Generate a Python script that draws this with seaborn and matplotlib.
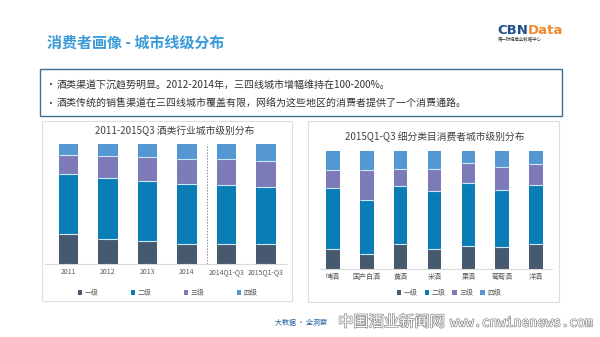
import matplotlib
matplotlib.use("Agg")
import matplotlib.pyplot as plt
import matplotlib.patheffects as pe
from matplotlib.patches import Rectangle, Patch
import numpy as np
import pandas as pd
import seaborn as sns

# ---- data -------------------------------------------------------------
years = ["2011", "2012", "2013", "2014", "2014Q1-Q3", "2015Q1-Q3"]
year_t1 = [25.3, 20.8, 19.2, 16.7, 16.4, 16.4]
year_t2 = [49.4, 50.6, 49.7, 49.7, 49.4, 48.1]
year_t3 = [16.1, 18.6, 20.0, 20.8, 21.4, 21.1]
year_t4 = [9.2, 10.0, 11.1, 12.8, 12.8, 14.4]

drinks = ["啤酒", "国产白酒", "黄酒", "米酒", "果酒", "葡萄酒", "洋酒"]
drink_t1 = [16.7, 12.5, 21.5, 16.7, 19.5, 18.7, 21.0]
drink_t2 = [51.6, 45.9, 48.7, 49.3, 53.8, 48.2, 50.1]
drink_t3 = [15.9, 25.8, 14.4, 19.0, 16.4, 19.5, 18.1]
drink_t4 = [15.9, 15.9, 15.3, 15.0, 10.2, 13.6, 10.8]

tiers = ["一级", "二级", "三级", "四级"]
tier_colors = ["#46596f", "#0a7cb6", "#7d7ab8", "#5597d3"]

bullets = [
    "酒类渠道下沉趋势明显。2012-2014年，三四线城市增幅维持在100-200%。",
    "酒类传统的销售渠道在三四线城市覆盖有限，网络为这些地区的消费者提供了一个消费通路。",
]

# ---- style ------------------------------------------------------------
sns.set_theme(style="white")
plt.rcParams["font.family"] = ["Noto Sans CJK SC", "DejaVu Sans"]

W, H = 600, 337
fig = plt.figure(figsize=(W / 100, H / 100), dpi=100)
fig.patch.set_facecolor("white")


def fx(px):
    return px / W


def fy(py):
    return 1 - py / H


def frame(x0, y0, x1, y1, color, lw):
    fig.add_artist(Rectangle((fx(x0), fy(y1)), fx(x1) - fx(x0), fy(y0) - fy(y1),
                             transform=fig.transFigure, fill=False,
                             edgecolor=color, linewidth=lw))


# header
fig.text(fx(47), fy(43), "消费者画像 - 城市线级分布", fontsize=10.8, fontweight="bold",
         color="#3b9ad8", va="center", ha="left")
logo = fig.text(fx(497), fy(30), "CBN", fontsize=9.5, fontweight="bold",
                color="#1d4f8b", va="center", ha="left", family="DejaVu Sans")
fig.canvas.draw()
bb = logo.get_window_extent()
fig.text(bb.x1 / W, fy(30), "Data", fontsize=9.5, fontweight="bold",
         color="#ee8a2a", va="center", ha="left", family="DejaVu Sans")
fig.text(fx(498), fy(40), "第一财经商业数据中心", fontsize=3.2, color="#333333",
         va="center", ha="left")

# summary box
frame(40, 69, 562, 116, "#3f6d8e", 1.0)
for i, line in enumerate(bullets):
    y = 85 + i * 19
    fig.text(fx(45), fy(y), "•", fontsize=7, color="#404040", va="center")
    fig.text(fx(57), fy(y), line, fontsize=7.2, color="#333333", va="center")

# panel frames
frame(42, 121, 292, 301, "#dedede", 0.8)
frame(308, 121, 559, 302, "#dedede", 0.8)


def stacked(ax, cats, layers, width):
    df = pd.DataFrame({"cat": cats})
    cum = np.zeros(len(cats))
    cums = []
    for vals in layers:
        cum = cum + np.asarray(vals)
        cums.append(cum.copy())
    # draw from the tallest cumulative layer down so each tier shows its own slice
    for k in range(len(layers) - 1, -1, -1):
        df["v"] = cums[k]
        sns.barplot(data=df, x="cat", y="v", order=cats, color=tier_colors[k],
                    saturation=1, width=width, linewidth=0, ax=ax, errorbar=None)
    pos = np.arange(len(cats))
    for k in range(len(layers) - 1):
        ax.hlines(cums[k], pos - width / 2, pos + width / 2,
                  colors="#cde9f8", linewidth=0.8, zorder=5)
    ax.set_ylim(0, 100)
    ax.set_xlabel("")
    ax.set_ylabel("")
    ax.set_yticks([])
    for s in ["left", "right", "top"]:
        ax.spines[s].set_visible(False)
    ax.spines["bottom"].set_color("#d9d9d9")
    ax.spines["bottom"].set_linewidth(0.8)
    ax.tick_params(axis="x", length=0, labelsize=5, labelcolor="#595959", pad=3)
    ax.set_facecolor("none")


# left chart: yearly distribution
ax1 = fig.add_axes([fx(45), fy(264), fx(287) - fx(45), fy(144) - fy(264)])
stacked(ax1, years, [year_t1, year_t2, year_t3, year_t4], 0.49)
ax1.set_xlim(-0.59, 5.53)
ax1.axvline(3.5, color="#8c8c8c", linestyle=(0, (1.5, 1.5)), linewidth=0.7)
fig.text(fx(175), fy(131), "2011-2015Q3 酒类行业城市级别分布", fontsize=7,
         color="#404040", ha="center", va="center")

# right chart: by drink category
ax2 = fig.add_axes([fx(320), fy(269), fx(552) - fx(320), fy(151) - fy(269)])
stacked(ax2, drinks, [drink_t1, drink_t2, drink_t3, drink_t4], 0.40)
ax2.set_xlim(-0.384, 6.473)
fig.text(fx(435), fy(137), "2015Q1-Q3 细分类目消费者城市级别分布", fontsize=7,
         color="#404040", ha="center", va="center")

handles = [Patch(facecolor=c, edgecolor="none") for c in tier_colors]
fig.legend(handles, tiers, loc="center", bbox_to_anchor=(fx(168), fy(293)),
           ncol=4, frameon=False, fontsize=5, handlelength=0.6, handleheight=0.6,
           handletextpad=0.4, columnspacing=4.6, labelcolor="#595959")
fig.legend(handles, tiers, loc="center", bbox_to_anchor=(fx(449), fy(293)),
           ncol=4, frameon=False, fontsize=5, handlelength=0.6, handleheight=0.6,
           handletextpad=0.4, columnspacing=1.0, labelcolor="#595959")

# footer
fig.text(fx(275), fy(323), "大数据 · 全洞察", fontsize=5, color="#1f5fa0",
         va="center", ha="left")
outline = [pe.withStroke(linewidth=1.0, foreground="#8a8a8a")]
fig.text(fx(338), fy(322), "中国酒业新闻网", fontsize=11, color="white",
         va="center", ha="left", path_effects=outline)
fig.text(fx(450), fy(323), "www.cnwinenews.com", fontsize=9.5, color="white",
         va="center", ha="left", family="DejaVu Sans Mono", path_effects=outline)

fig.savefig("out.png", dpi=100, facecolor="white")
